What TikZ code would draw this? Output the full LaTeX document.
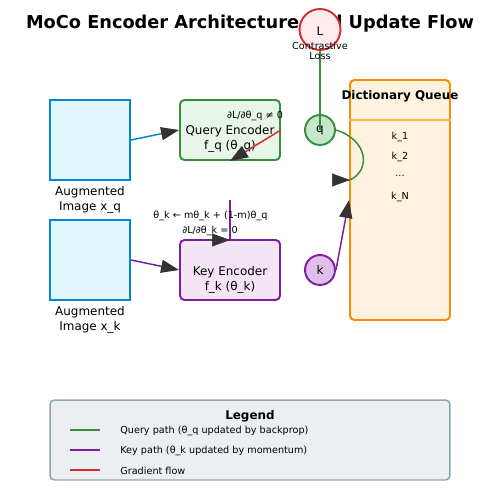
\documentclass[tikz,border=0pt]{standalone}
\usepackage{fontspec}
\setmainfont{DejaVu Sans}
\usetikzlibrary{positioning,arrows.meta}

\definecolor{qgreen}{HTML}{388E3C}
\definecolor{qfill}{HTML}{E8F5E9}
\definecolor{qdot}{HTML}{C8E6C9}
\definecolor{kpurple}{HTML}{7B1FA2}
\definecolor{kfill}{HTML}{F3E5F5}
\definecolor{kdot}{HTML}{E1BEE7}
\definecolor{imblue}{HTML}{0288D1}
\definecolor{imfill}{HTML}{E1F5FE}
\definecolor{qorange}{HTML}{FB8C00}
\definecolor{qofill}{HTML}{FFF3E0}
\definecolor{qosep}{HTML}{FFB74D}
\definecolor{gred}{HTML}{D32F2F}
\definecolor{lfill}{HTML}{FFEBEE}
\definecolor{legfill}{HTML}{ECEFF1}
\definecolor{legedge}{HTML}{90A4AE}
\definecolor{headgray}{HTML}{333333}

\tikzset{
  midtxt/.style={font=\fontsize{6.8}{8.5}\selectfont, align=center, inner sep=0pt},
  boldtxt/.style={font=\bfseries\fontsize{6.8}{8.5}\selectfont, inner sep=0pt},
  smalltxt/.style={font=\fontsize{5.5}{5.8}\selectfont, align=center, inner sep=0pt},
  imbox/.style={draw=imblue, fill=imfill, line width=1.1pt, minimum width=1.6cm, minimum height=1.6cm, inner sep=0pt},
  encbox/.style={rounded corners=2.5pt, line width=1.1pt, minimum width=2cm, minimum height=1.2cm, inner sep=0pt},
  dot/.style={circle, line width=1.1pt, minimum size=0.6cm, inner sep=0pt, font=\fontsize{6.8}{8}\selectfont},
  tip/.tip={Triangle[length=0.36cm, width=0.26cm, color=headgray]},
  qpath/.style={draw=qgreen, line width=0.85pt},
  kpath/.style={draw=kpurple, line width=0.85pt},
  gpath/.style={draw=gred, line width=0.85pt},
  headonly/.style={draw=headgray, line width=0.3pt, -tip},
}

\begin{document}
\begin{tikzpicture}[x=0.02cm, y=-0.02cm]
  \useasboundingbox (0,0) rectangle (500,500);

  \node[font=\bfseries\fontsize{10.1}{12}\selectfont] (title) at (250,24) {MoCo Encoder Architecture and Update Flow};

  %% images
  \node[imbox] (imq) at (90,140) {};
  \node[midtxt, below=3pt of imq] (imqlbl) {Augmented\\Image x\_q};

  \node[imbox] (imk) at (90,260) {};
  \node[midtxt, below=3pt of imk] (imklbl) {Augmented\\Image x\_k};

  %% encoders
  \node[encbox, draw=qgreen, fill=qfill] (qenc) at (230,130) {};
  \node[midtxt] (qenclbl) at (230,139) {Query Encoder\\f\_q (θ\_q)};

  \node[encbox, draw=kpurple, fill=kfill] (kenc) at (230,270) {};
  \node[midtxt] (kenclbl) at (230,280) {Key Encoder\\f\_k (θ\_k)};

  %% queue
  \node[draw=qorange, fill=qofill, line width=1.1pt, rounded corners=2.5pt,
        minimum width=2cm, minimum height=4.8cm, inner sep=0pt] (queue) at (400,200) {};
  \draw[qosep, line width=0.85pt] (queue.west |- 0,120) coordinate (sepl) -- (queue.east |- 0,120) coordinate (sepr);
  \node[boldtxt] (qtitle) at (400,96) {Dictionary Queue};
  \node[smalltxt] (k1) at (400,137) {k\_1};
  \node[smalltxt] (k2) at (400,157) {k\_2};
  \node[smalltxt] (kdots) at (400,176) {...};
  \node[smalltxt] (kN) at (400,197) {k\_N};

  %% loss, q, k
  \node[dot, draw=gred, fill=lfill, minimum size=0.82cm] (loss) at (320,29.5) {};
  \node[font=\fontsize{6.8}{8}\selectfont] (losssym) at (320,31) {L};

  \node[dot, draw=qgreen, fill=qdot] (qn) at (320,130) {q};
  \node[dot, draw=kpurple, fill=kdot] (kn) at (320,270) {k};

  \draw[qpath] (loss.south) -- (qn.center);
  \node[smalltxt] (losslbl) at (320,51) {Contrastive\\Loss};

  %% connectors
  \draw[draw=imblue, line width=0.85pt, -tip] (imq.east) -- (qenc.west);
  \draw[kpath, -tip] (imk.east) -- (kenc.west);
  \draw[gpath, -tip] (qenc.east) -- (qenc.south);
  \node[smalltxt] (gradq) at (255,116) {∂L/∂θ\_q ≠ 0};

  \coordinate (mtop) at (230,200);
  \coordinate (mend) at (230,240);
  \coordinate (mhead) at (229,240);
  \draw[kpath] (mtop) -- (mend);
  \draw[headonly] (mhead) -- (mend);
  \node[smalltxt] (momupd) at (210.5,216) {θ\_k ← mθ\_k + (1-m)θ\_q};
  \node[smalltxt] (gradk) at (210,231) {∂L/∂θ\_k = 0};

  \coordinate (qin) at (350,180);
  \coordinate (qinhead) at (349,180);
  \draw[qpath] (qn.east) .. controls (368,140) and (371,170) .. (qin);
  \draw[headonly] (qinhead) -- (qin);

  \draw[kpath, -tip] (kn.east) -- (queue.west);

  %% legend
  \node[draw=legedge, fill=legfill, line width=0.85pt, rounded corners=2.5pt,
        minimum width=8cm, minimum height=1.6cm, inner sep=0pt] (legend) at (250,440) {};
  \node[boldtxt] (legtitle) at (250,416) {Legend};

  \coordinate (lq1) at (70,430);
  \coordinate (lq2) at (100,430);
  \draw[qpath] (lq1) -- (lq2);
  \node[smalltxt, anchor=west] (legq) at (120,431) {Query path (θ\_q updated by backprop)};

  \coordinate (lk1) at (70,450);
  \coordinate (lk2) at (100,450);
  \draw[kpath] (lk1) -- (lk2);
  \node[smalltxt, anchor=west] (legk) at (120,451) {Key path (θ\_k updated by momentum)};

  \coordinate (lg1) at (70,470);
  \coordinate (lg2) at (100,470);
  \draw[gpath] (lg1) -- (lg2);
  \node[smalltxt, anchor=west] (legg) at (120,471) {Gradient flow};

\end{tikzpicture}
\end{document}
